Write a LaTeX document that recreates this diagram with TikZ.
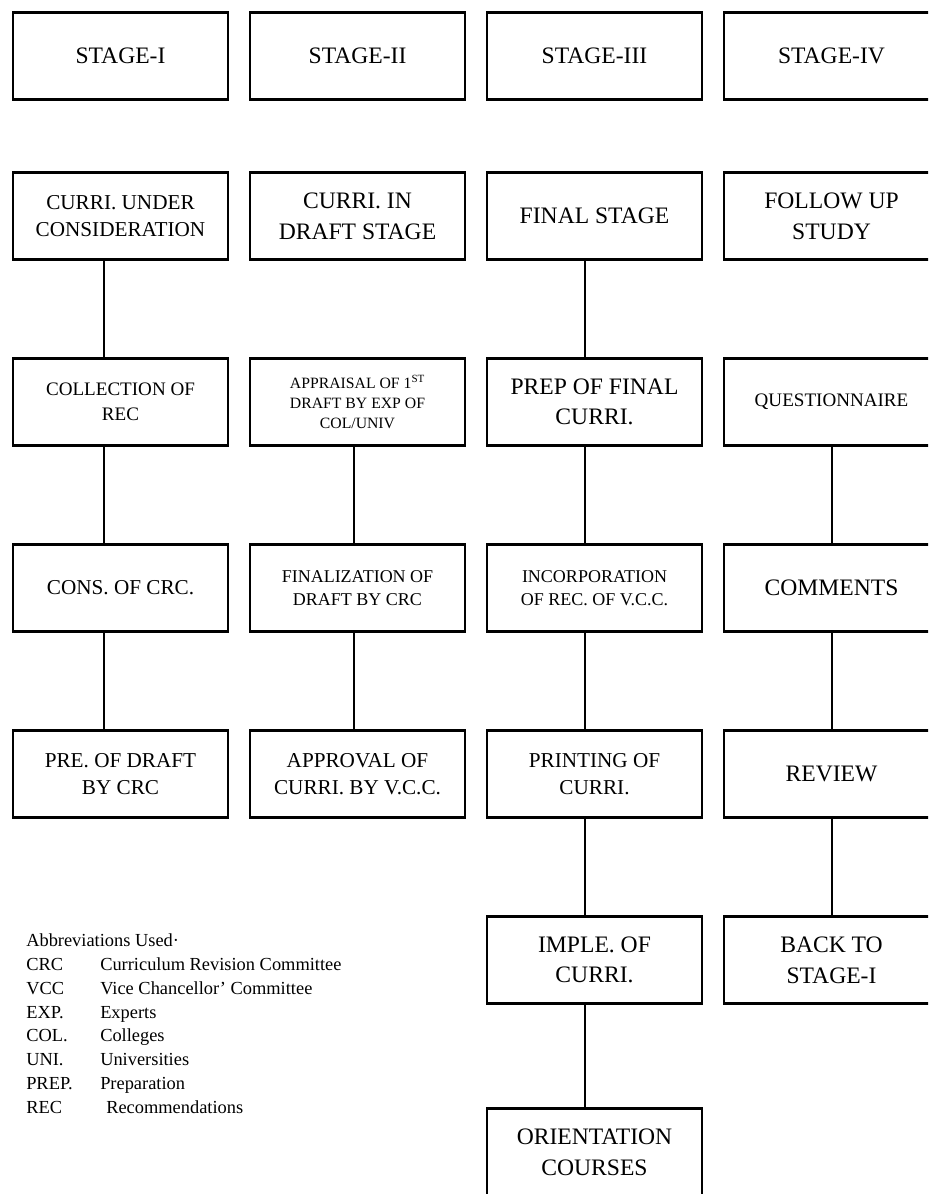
\documentclass[tikz,border=0pt]{standalone}
\usepackage{fontspec}
\setmainfont{Liberation Serif}
\usetikzlibrary{positioning}

\begin{document}
\begin{tikzpicture}[x=0.75pt, y=-0.75pt, node distance=139.5pt and 177.75pt, on grid,
box/.style={draw, line width=1.8pt, minimum width=161pt, minimum height=65pt,
  align=center, inner sep=1pt, font=\fontsize{17.7}{23}\selectfont},
mid/.style={font=\fontsize{15.9}{20.7}\selectfont},
smid/.style={font=\fontsize{14.3}{18.6}\selectfont},
small/.style={font=\fontsize{13.5}{17.3}\selectfont},
tiny/.style={font=\fontsize{11.8}{15}\selectfont},
link/.style={line width=1.5pt}]
\path[use as bounding box, fill=white] (0,0) rectangle (928,1194);
\clip (0,0) rectangle (928,1194);

% stage headers
\node[box] (s1) at (120.5,56) {STAGE-I};
\node[box, right=of s1] (s2) {STAGE-II};
\node[box, right=of s2] (s3) {STAGE-III};
\node[box, right=of s3] (s4) {STAGE-IV};

% first row
\node[box, mid, below=120pt of s1] (a1) {CURRI. UNDER\\CONSIDERATION};
\node[box, right=of a1] (a2) {CURRI. IN\\DRAFT STAGE};
\node[box, right=of a2] (a3) {FINAL STAGE};
\node[box, right=of a3] (a4) {FOLLOW UP\\STUDY};

\node[box, smid, below=of a1] (b1) {COLLECTION OF\\REC};
\node[box, tiny, below=of a2] (b2) {APPRAISAL OF 1\textsuperscript{ST}\\DRAFT BY EXP OF\\COL/UNIV};
\node[box, below=of a3] (b3) {PREP OF FINAL\\CURRI.};
\node[box, smid, below=of a4] (b4) {QUESTIONNAIRE};

\node[box, mid, below=of b1] (c1) {CONS. OF CRC.};
\node[box, small, below=of b2] (c2) {FINALIZATION OF\\DRAFT BY CRC};
\node[box, small, below=of b3] (c3) {INCORPORATION\\OF REC. OF V.C.C.};
\node[box, below=of b4] (c4) {COMMENTS};

\node[box, mid, below=of c1] (d1) {PRE. OF DRAFT\\BY CRC};
\node[box, mid, below=of c2] (d2) {APPROVAL OF\\CURRI. BY V.C.C.};
\node[box, mid, below=of c3] (d3) {PRINTING OF\\CURRI.};
\node[box, below=of c4] (d4) {REVIEW};

\node[box, below=of d3] (e3) {IMPLE. OF\\CURRI.};
\node[box, below=of d4] (e4) {BACK TO\\STAGE-I};

\node[box, below=144pt of e3] (f3) {ORIENTATION\\COURSES};

% connectors
\draw[link] ([xshift=-12.4pt]a1.south) -- ([xshift=-12.4pt]b1.north);
\draw[link] ([xshift=-12.4pt]b1.south) -- ([xshift=-12.4pt]c1.north);
\draw[link] ([xshift=-12.4pt]c1.south) -- ([xshift=-12.4pt]d1.north);
\draw[link] ([xshift=-2.6pt]b2.south) -- ([xshift=-2.6pt]c2.north);
\draw[link] ([xshift=-2.6pt]c2.south) -- ([xshift=-2.6pt]d2.north);
\draw[link] ([xshift=-7.5pt]a3.south) -- ([xshift=-7.5pt]b3.north);
\draw[link] ([xshift=-7.5pt]b3.south) -- ([xshift=-7.5pt]c3.north);
\draw[link] ([xshift=-7.5pt]c3.south) -- ([xshift=-7.5pt]d3.north);
\draw[link] ([xshift=-7.5pt]d3.south) -- ([xshift=-7.5pt]e3.north);
\draw[link] ([xshift=-7.5pt]e3.south) -- ([xshift=-7.5pt]f3.north);
\draw[link] (b4) -- (c4);
\draw[link] (c4) -- (d4);
\draw[link] (d4) -- (e4);

% abbreviations
\node[anchor=north west, inner sep=0pt, font=\fontsize{13.8}{17.8}\selectfont] (abbr) at (26,930)
{\begin{tabular}{@{}p{55.5pt}@{}l@{}}
\multicolumn{2}{@{}l@{}}{Abbreviations Used·}\\
CRC & Curriculum Revision Committee\\
VCC & Vice Chancellor' Committee\\
EXP. & Experts\\
COL. & Colleges\\
UNI. & Universities\\
PREP. & Preparation\\
REC & \hspace{4.5pt}Recommendations
\end{tabular}};
\end{tikzpicture}
\end{document}
